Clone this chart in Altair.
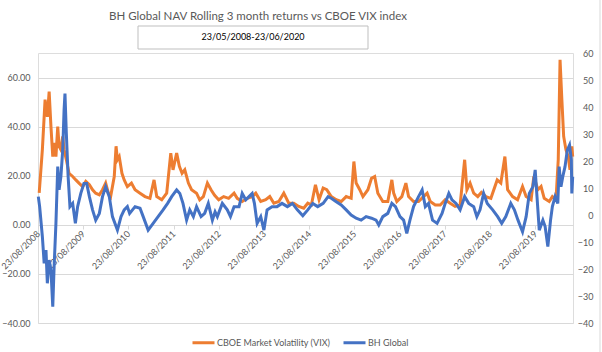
import altair as alt
import pandas as pd

# ---- data (decimal years) ----
vix_years = [2008.67, 2008.74, 2008.80, 2008.85, 2008.89, 2008.93, 2008.97, 2009.00, 2009.04, 2009.08,
             2009.11, 2009.15, 2009.19, 2009.22, 2009.27, 2009.33, 2009.41, 2009.48, 2009.55, 2009.63,
             2009.70, 2009.78, 2009.85, 2009.92, 2010.00, 2010.07, 2010.14, 2010.20, 2010.25, 2010.33,
             2010.37, 2010.40, 2010.44, 2010.50, 2010.55, 2010.62, 2010.71, 2010.79, 2010.90, 2011.01,
             2011.12, 2011.21, 2011.27, 2011.38, 2011.49, 2011.58, 2011.63, 2011.71, 2011.77, 2011.83,
             2011.89, 2011.97, 2012.04, 2012.15, 2012.22, 2012.30, 2012.39, 2012.47, 2012.55, 2012.64,
             2012.75, 2012.86, 2012.98, 2013.05, 2013.16, 2013.27, 2013.38, 2013.46, 2013.57, 2013.68,
             2013.77, 2013.86, 2013.97, 2014.08, 2014.19, 2014.30, 2014.41, 2014.52, 2014.61, 2014.69,
             2014.78, 2014.86, 2014.95, 2015.03, 2015.13, 2015.24, 2015.35, 2015.46, 2015.57, 2015.63,
             2015.68, 2015.76, 2015.83, 2015.94, 2016.02, 2016.09, 2016.16, 2016.27, 2016.38, 2016.47,
             2016.51, 2016.58, 2016.69, 2016.78, 2016.84, 2016.95, 2017.06, 2017.17, 2017.25, 2017.32,
             2017.43, 2017.54, 2017.65, 2017.76, 2017.87, 2017.98, 2018.08, 2018.13, 2018.20, 2018.28,
             2018.37, 2018.45, 2018.55, 2018.66, 2018.80, 2018.88, 2018.97, 2019.03, 2019.14, 2019.25,
             2019.36, 2019.44, 2019.55, 2019.61, 2019.70, 2019.77, 2019.84, 2019.95, 2020.02, 2020.10,
             2020.15, 2020.19, 2020.23, 2020.27, 2020.32, 2020.37, 2020.41, 2020.45, 2020.47]
vix_values = [13.0, 30.6, 51.0, 44.0, 54.3, 40.0, 27.8, 33.4, 27.8, 40.0,
              32.0, 30.6, 36.0, 30.6, 26.5, 21.0, 19.7, 18.3, 17.0, 15.6,
              17.7, 16.3, 14.3, 12.9, 12.2, 14.3, 17.0, 12.9, 11.5, 19.7,
              32.0, 26.5, 27.8, 21.0, 18.3, 15.6, 17.0, 14.3, 12.9, 11.5,
              10.8, 18.3, 11.5, 10.2, 12.9, 29.2, 22.4, 29.2, 23.8, 21.0,
              22.4, 17.0, 14.3, 12.9, 10.2, 11.5, 17.0, 14.3, 12.0, 10.2,
              11.5, 10.8, 12.9, 10.8, 9.5, 10.8, 11.5, 12.9, 9.5, 10.2,
              11.5, 8.8, 9.5, 12.9, 8.8, 8.8, 7.5, 6.8, 8.8, 8.1,
              16.3, 10.2, 15.0, 14.3, 11.5, 10.2, 9.5, 11.5, 10.8, 25.8,
              17.0, 14.3, 11.5, 14.3, 19.0, 19.7, 12.9, 9.5, 9.5, 18.3,
              12.9, 9.5, 11.5, 17.0, 11.5, 9.5, 9.5, 11.5, 12.9, 9.5,
              8.1, 8.1, 10.2, 8.8, 7.5, 8.1, 26.5, 14.3, 17.0, 12.9,
              11.5, 13.2, 11.5, 10.8, 18.3, 17.0, 27.8, 14.3, 11.5, 10.2,
              15.6, 11.5, 10.2, 19.7, 14.3, 15.6, 10.8, 9.5, 11.5, 10.2,
              26.5, 67.2, 51.0, 36.0, 30.6, 27.8, 22.4, 32.0, 27.8]

bh_years = [2008.65, 2008.68, 2008.74, 2008.78, 2008.82, 2008.85, 2008.89, 2008.93, 2008.97, 2009.00,
            2009.04, 2009.08, 2009.11, 2009.15, 2009.19, 2009.22, 2009.24, 2009.27, 2009.31, 2009.35,
            2009.41, 2009.47, 2009.52, 2009.59, 2009.66, 2009.72, 2009.78, 2009.85, 2009.92, 2010.00,
            2010.07, 2010.14, 2010.22, 2010.29, 2010.40, 2010.48, 2010.55, 2010.62, 2010.67, 2010.79,
            2010.90, 2010.97, 2011.08, 2011.19, 2011.30, 2011.41, 2011.51, 2011.60, 2011.71, 2011.78,
            2011.85, 2011.93, 2012.00, 2012.08, 2012.15, 2012.25, 2012.33, 2012.41, 2012.50, 2012.56,
            2012.61, 2012.72, 2012.83, 2012.90, 2012.98, 2013.09, 2013.16, 2013.24, 2013.31, 2013.38,
            2013.43, 2013.49, 2013.57, 2013.64, 2013.71, 2013.82, 2013.93, 2014.04, 2014.16, 2014.27,
            2014.38, 2014.50, 2014.61, 2014.72, 2014.83, 2014.95, 2015.06, 2015.13, 2015.24, 2015.35,
            2015.46, 2015.57, 2015.68, 2015.79, 2015.90, 2016.02, 2016.12, 2016.18, 2016.27, 2016.38,
            2016.47, 2016.55, 2016.65, 2016.73, 2016.80, 2016.87, 2016.95, 2017.06, 2017.14, 2017.21,
            2017.28, 2017.37, 2017.47, 2017.58, 2017.65, 2017.73, 2017.80, 2017.89, 2017.98, 2018.08,
            2018.17, 2018.28, 2018.35, 2018.42, 2018.50, 2018.58, 2018.70, 2018.81, 2018.90, 2018.99,
            2019.10, 2019.18, 2019.26, 2019.36, 2019.44, 2019.51, 2019.59, 2019.64, 2019.68, 2019.73,
            2019.81, 2019.86, 2019.92, 2019.98, 2020.02, 2020.08, 2020.14, 2020.17, 2020.21, 2020.25,
            2020.30, 2020.35, 2020.40, 2020.44, 2020.45, 2020.47]
bh_values = [6.8, 3.1, -8.0, -17.9, -13.0, -25.3, -16.7, -20.4, -34.0, -19.1,
             -3.1, 17.9, 9.3, 14.2, 24.0, 38.9, 45.0, 30.3, 14.2, 3.1,
             4.3, -3.1, 3.1, 8.0, 11.7, 11.7, 6.8, 1.9, -1.9, 0.6,
             6.8, 10.5, 6.8, -0.6, -5.6, -0.6, 1.9, 3.1, 0.6, 3.1,
             2.5, -0.6, -5.6, -3.1, -0.6, 1.9, 4.3, 6.8, 9.3, 8.0,
             4.3, -1.9, 1.9, -0.6, 3.1, -0.6, 0.6, 4.3, -1.9, 1.2,
             -0.6, 4.3, 1.9, -0.6, 3.1, 3.1, 8.0, 5.6, 6.8, 8.0,
             4.3, -3.1, -0.6, -5.6, 1.9, 3.1, 3.1, 4.3, 3.1, 4.3,
             1.9, -0.3, 1.9, 4.3, 3.1, 4.3, 6.8, 6.2, 4.9, 3.7,
             1.9, 0.0, -1.2, -1.9, -0.6, -1.2, -1.9, -3.7, -0.6, 0.6,
             4.3, 3.1, -0.6, -1.9, -6.8, -1.9, 3.1, 6.8, 9.3, 3.1,
             4.3, -1.9, -3.1, 0.6, 4.3, 8.0, 5.6, 4.3, 1.9, 6.8,
             4.3, 3.1, -0.6, 1.9, 8.0, 4.3, 1.9, -0.6, -3.1, -0.6,
             4.3, 1.9, -1.9, -6.2, -0.6, 8.0, 10.5, 16.7, 6.8, -5.6,
             -1.9, -4.3, -11.7, -1.9, 3.1, 6.8, 4.3, 17.9, 10.5, 14.2,
             17.9, 24.0, 25.9, 20.4, 8.0, 14.2]

SERIES = ["CBOE Market Volatility (VIX)", "BH Global"]
COLORS = ["#ED7D31", "#4472C4"]
LEFT_TICKS = [-40, -20, 0, 20, 40, 60]
RIGHT_TICKS = [-40, -30, -20, -10, 0, 10, 20, 30, 40, 50, 60]
TICK_YEARS = list(range(2008, 2020))
TITLE = "BH Global NAV Rolling 3 month returns vs CBOE VIX index"
SUBTITLE = "23/05/2008-23/06/2020"

FONT = "Lato"
GREY = "#595959"
GRID = "#d9d9d9"


def to_dates(years):
    base = pd.Timestamp("2008-01-01")
    return [base + pd.Timedelta(days=(y - 2008) * 365.25) for y in years]


vix_df = pd.DataFrame({"date": to_dates(vix_years), "value": vix_values, "series": SERIES[0]})
bh_df = pd.DataFrame({"date": to_dates(bh_years), "value": bh_values, "series": SERIES[1]})

x_enc = alt.X(
    "date:T",
    title=None,
    scale=alt.Scale(domain=[alt.DateTime(year=2008, month=8, date=23),
                            alt.DateTime(year=2020, month=6, date=23)]),
    axis=alt.Axis(
        values=[alt.DateTime(year=y, month=8, date=23) for y in TICK_YEARS],
        format="%d/%m/%Y",
        labelAngle=-45,
        labelAlign="right",
        labelBaseline="middle",
        labelFontSize=9,
        labelColor=GREY,
        labelFont=FONT,
        labelPadding=3,
        labelOverlap=False,
        grid=False,
        domainColor=GRID,
        tickColor=GRID,
        tickSize=4,
        offset=-98,
    ),
)

color_enc = alt.Color(
    "series:N",
    scale=alt.Scale(domain=SERIES, range=COLORS),
    legend=alt.Legend(
        title=None,
        orient="none",
        direction="horizontal",
        legendX=153,
        legendY=277,
        symbolType="stroke",
        symbolStrokeWidth=3,
        symbolSize=484,
        labelFontSize=9,
        labelColor=GREY,
        labelFont=FONT,
        labelOffset=1,
        columnPadding=6,
    ),
)

vix = alt.Chart(vix_df).mark_line(strokeWidth=3).encode(
    x=x_enc,
    y=alt.Y(
        "value:Q",
        title=None,
        scale=alt.Scale(domain=[-40, 70], nice=False, zero=False),
        axis=alt.Axis(
            values=LEFT_TICKS,
            format=".2f",
            grid=True,
            gridColor=GRID,
            domain=False,
            ticks=False,
            labelFontSize=9,
            labelColor=GREY,
            labelFont=FONT,
            labelPadding=8,
        ),
    ),
    color=color_enc,
)

bh = alt.Chart(bh_df).mark_line(strokeWidth=3).encode(
    x=x_enc,
    y=alt.Y(
        "value:Q",
        title=None,
        scale=alt.Scale(domain=[-40, 60], nice=False, zero=False),
        axis=alt.Axis(
            orient="right",
            values=RIGHT_TICKS,
            format="d",
            grid=False,
            domain=False,
            ticks=False,
            labelFontSize=9,
            labelColor=GREY,
            labelFont=FONT,
            labelAlign="right",
            labelPadding=20,
        ),
    ),
    color=color_enc,
)

one = pd.DataFrame({"k": [0]})

title_mark = alt.Chart(one).mark_text(
    text=TITLE, font=FONT, fontSize=11.5, color=GREY, align="center", baseline="alphabetic"
).encode(x=alt.value(220), y=alt.value(-33))

box = alt.Chart(one).mark_rect(fill="white", stroke="#bfbfbf", strokeWidth=1).encode(
    x=alt.value(100), x2=alt.value(330), y=alt.value(-27), y2=alt.value(-4)
)

sub_mark = alt.Chart(one).mark_text(
    text=SUBTITLE, font=FONT, fontSize=9, color="#000000", align="center", baseline="alphabetic"
).encode(x=alt.value(215), y=alt.value(-13))

border = alt.Chart(one).mark_rule(color=GRID, strokeWidth=1).encode(
    x=alt.value(562), y=alt.value(-53), y2=alt.value(299)
)

chart = (
    alt.layer(vix, bh, box, title_mark, sub_mark, border)
    .resolve_scale(y="independent")
    .properties(
        width=535,
        height=270,
        autosize=alt.AutoSizeParams(type="none"),
        padding={"left": 38, "top": 53, "right": 29, "bottom": 29},
    )
    .configure_view(stroke=None)
    .configure(background="white")
)

chart.save("out.html", embed_options={"renderer": "svg", "actions": False})
